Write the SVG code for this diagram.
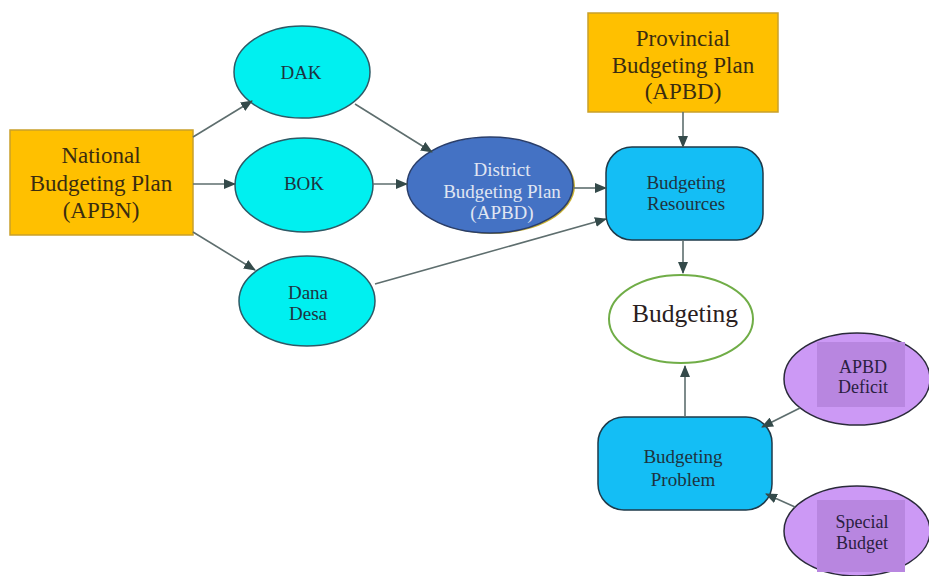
<svg xmlns="http://www.w3.org/2000/svg" width="929" height="576" viewBox="0 0 929 576" font-family="'Liberation Serif', 'Times New Roman', serif">
<style>
text{font-family:"Liberation Serif","Times New Roman",serif;text-anchor:middle}
.orange{fill:#FFC000;stroke:#C9A02A;stroke-width:1.5}
.cyan{fill:#00F0F0;stroke:#2D5A66;stroke-width:1.5}
.sky{fill:#14BEF5;stroke:#1E3A4A;stroke-width:1.5}
.purple{fill:#CC99F5;stroke:#2A2A3A;stroke-width:1.5}
.inner{fill:#B886E0}
.conn line{stroke:#5E6E6E;stroke-width:1.6;fill:none}
.t23{font-size:23px;fill:#3A2C10}
.t19{font-size:19px;fill:#1E3340}
.t18{font-size:18px;fill:#2A2040}
</style>
<defs>
<marker id="ah" viewBox="0 0 12 10" refX="11" refY="5" markerWidth="12" markerHeight="10" orient="auto" markerUnits="userSpaceOnUse">
<path d="M0,0 L12,5 L0,10 z" fill="#344A4A"/>
</marker>
</defs>
<rect width="929" height="576" fill="#ffffff"/>
<g id="national">
<rect class="orange" x="10" y="130" width="183" height="105"/>
<text class="t23" x="101" y="163">National</text>
<text class="t23" x="101" y="191">Budgeting Plan</text>
<text class="t23" x="101" y="218">(APBN)</text>
</g>
<g id="dak">
<ellipse class="cyan" cx="302" cy="72" rx="68" ry="46"/>
<text class="t19" x="301" y="79">DAK</text>
</g>
<g id="bok">
<ellipse class="cyan" cx="304" cy="185" rx="69" ry="47"/>
<text class="t19" x="304" y="190">BOK</text>
</g>
<g id="dana">
<ellipse class="cyan" cx="307" cy="301" rx="68" ry="45"/>
<text class="t19" x="308" y="299">Dana</text>
<text class="t19" x="308" y="320">Desa</text>
</g>
<g id="district">
<ellipse cx="492" cy="186" rx="83" ry="48" fill="#C8B030"/>
<ellipse cx="490" cy="185" rx="83" ry="48" fill="#4472C4" stroke="#2A3E6A" stroke-width="1.5"/>
<text x="502" y="176" font-size="19" fill="#E0E6F2">District</text>
<text x="502" y="198" font-size="19" fill="#E0E6F2">Budgeting Plan</text>
<text x="502" y="219" font-size="19" fill="#E0E6F2">(APBD)</text>
</g>
<g id="provincial">
<rect class="orange" x="588" y="13" width="190" height="99"/>
<text class="t23" x="683" y="46">Provincial</text>
<text class="t23" x="683" y="73">Budgeting Plan</text>
<text class="t23" x="683" y="99">(APBD)</text>
</g>
<g id="resources">
<rect class="sky" x="606" y="147" width="157" height="93" rx="26" ry="26"/>
<text class="t19" x="686" y="189">Budgeting</text>
<text class="t19" x="686" y="210">Resources</text>
</g>
<g id="budgeting">
<ellipse cx="681" cy="319" rx="72" ry="44" fill="#ffffff" stroke="#70AD47" stroke-width="2"/>
<text x="685" y="322" font-size="25.5" fill="#2A2020">Budgeting</text>
</g>
<g id="problem">
<rect class="sky" x="598" y="417" width="174" height="93" rx="26" ry="26"/>
<text class="t19" x="683" y="463">Budgeting</text>
<text class="t19" x="683" y="486">Problem</text>
</g>
<g id="deficit">
<ellipse class="purple" cx="857" cy="379" rx="73" ry="46"/>
<rect class="inner" x="817" y="342" width="88" height="65"/>
<text class="t18" x="863" y="373">APBD</text>
<text class="t18" x="863" y="393">Deficit</text>
</g>
<g id="special">
<ellipse class="purple" cx="857" cy="531" rx="73" ry="45"/>
<rect class="inner" x="817" y="500" width="88" height="72"/>
<text class="t18" x="862" y="528">Special</text>
<text class="t18" x="862" y="549">Budget</text>
</g>
<g class="conn">
<line x1="193" y1="137" x2="252" y2="101" marker-end="url(#ah)"/>
<line x1="193" y1="184" x2="235" y2="184" marker-end="url(#ah)"/>
<line x1="193" y1="232" x2="255" y2="270" marker-end="url(#ah)"/>
<line x1="355" y1="104" x2="432" y2="152" marker-end="url(#ah)"/>
<line x1="373" y1="184" x2="407" y2="184" marker-end="url(#ah)"/>
<line x1="375" y1="284" x2="606" y2="219" marker-end="url(#ah)"/>
<line x1="574" y1="188" x2="606" y2="188" marker-end="url(#ah)"/>
<line x1="683" y1="112" x2="683" y2="147" marker-end="url(#ah)"/>
<line x1="683" y1="240" x2="683" y2="273" marker-end="url(#ah)"/>
<line x1="685" y1="417" x2="685" y2="366" marker-end="url(#ah)"/>
<line x1="800" y1="408" x2="762" y2="427" marker-end="url(#ah)"/>
<line x1="795" y1="507" x2="766" y2="494" marker-end="url(#ah)"/>
</g>
</svg>
